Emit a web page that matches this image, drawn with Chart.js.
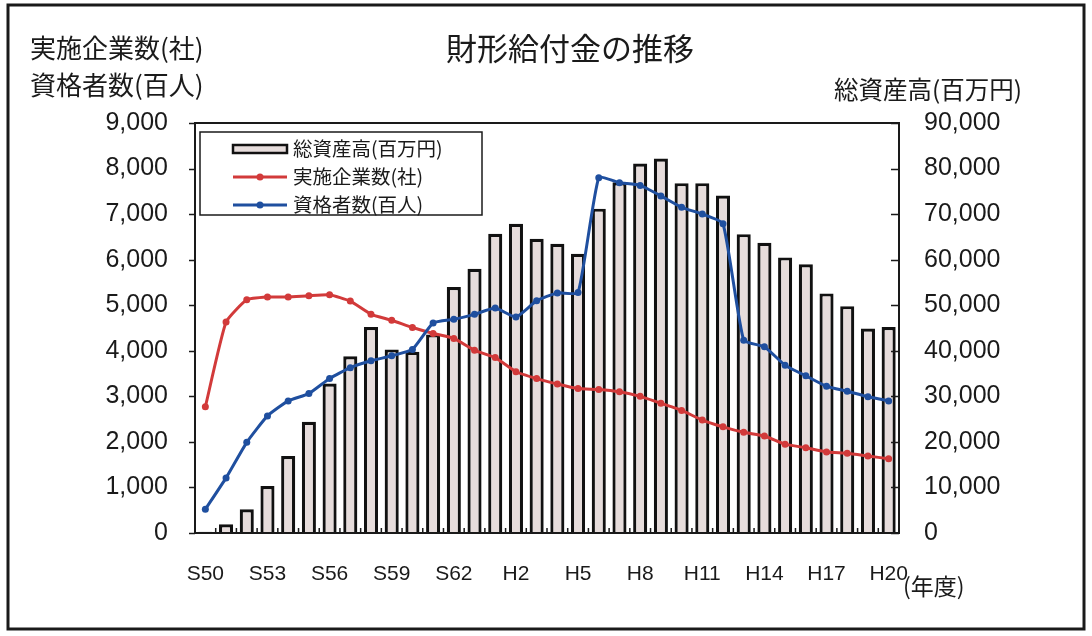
<!DOCTYPE html>
<html>
<head>
<meta charset="utf-8">
<script src="https://cdn.jsdelivr.net/npm/chart.js@4"></script>
<style>
html,body{margin:0;padding:0;background:#fff;}
#wrap{position:relative;width:1092px;height:636px;}
canvas{display:block;}
</style>
</head>
<body>
<div id="wrap"><canvas id="c" width="1092" height="636"></canvas></div>
<script>
const categories = ['S50','S51','S52','S53','S54','S55','S56','S57','S58','S59','S60','S61','S62','S63',
  'H1','H2','H3','H4','H5','H6','H7','H8','H9','H10','H11','H12','H13','H14','H15','H16','H17','H18','H19','H20'];
const totalAssets = [300,1900,5200,10300,16900,24400,32800,38800,45200,40300,39800,43600,54000,58000,65700,67900,64600,63500,61300,71200,77000,81100,82200,76800,76800,74100,65600,63700,60500,59000,52600,49800,44900,45200];
const companies = [2770,4630,5120,5180,5180,5210,5230,5090,4800,4670,4510,4380,4270,4010,3850,3540,3390,3270,3170,3150,3100,3000,2850,2690,2480,2330,2210,2130,1950,1870,1780,1750,1690,1630];
const qualified = [520,1210,1990,2570,2900,3060,3390,3630,3780,3890,4030,4610,4690,4800,4940,4740,5100,5270,5280,7800,7690,7630,7400,7150,7000,6790,4230,4090,3680,3450,3220,3110,2990,2900];
const leftTicks = [0,1000,2000,3000,4000,5000,6000,7000,8000,9000];
const rightTicks = [0,10000,20000,30000,40000,50000,60000,70000,80000,90000];
const labels = {
  title: '財形給付金の推移',
  left1: '実施企業数(社)',
  left2: '資格者数(百人)',
  right: '総資産高(百万円)',
  xunit: '(年度)',
  assets: '総資産高(百万円)',
  companies: '実施企業数(社)',
  qualified: '資格者数(百人)'
};

const RED = '#d23a3a', BLUE = '#1f4f9f', BARFILL = '#e6dcdb', BARLINE = '#111';
const CJK = '"Noto Sans CJK JP", "Noto Sans", sans-serif';
const NUM = '"Liberation Sans", Arial, sans-serif';

const decor = {
  id: 'decor',
  beforeDraw(chart) {
    const ctx = chart.ctx;
    ctx.save();
    ctx.fillStyle = '#fff';
    ctx.fillRect(0, 0, chart.width, chart.height);
    ctx.strokeStyle = '#1a1a1a';
    ctx.lineWidth = 3;
    ctx.strokeRect(8, 5, 1076, 624);
    ctx.restore();
  },
  afterDraw(chart) {
    const ctx = chart.ctx;
    const a = chart.chartArea;
    const y = chart.scales.y, y1 = chart.scales.y1;
    ctx.save();
    ctx.strokeStyle = '#1a1a1a';
    ctx.lineWidth = 2;
    ctx.strokeRect(a.left, a.top, a.right - a.left, a.bottom - a.top);
    ctx.lineWidth = 1.5;
    ctx.beginPath();
    leftTicks.forEach(v => { const py = Math.round(y.getPixelForValue(v)) + 0.5; ctx.moveTo(a.left - 6, py); ctx.lineTo(a.left, py); });
    rightTicks.forEach(v => { const py = Math.round(y1.getPixelForValue(v)) + 0.5; ctx.moveTo(a.right - 8, py); ctx.lineTo(a.right, py); });
    for (let i = 0; i <= categories.length; i++) {
      const px = a.left + (a.right - a.left) * i / categories.length;
      ctx.moveTo(px, a.bottom); ctx.lineTo(px, a.bottom - 5);
    }
    ctx.stroke();

    ctx.fillStyle = '#1a1a1a';
    ctx.textBaseline = 'middle';
    ctx.font = '31px ' + CJK;
    ctx.textAlign = 'center';
    ctx.fillText(labels.title, 570, 48);
    ctx.font = '26px ' + CJK;
    ctx.textAlign = 'left';
    ctx.fillText(labels.left1, 30, 48);
    ctx.fillText(labels.left2, 30, 85);
    ctx.font = '24.5px ' + CJK;
    ctx.fillText(labels.right, 834, 90);
    ctx.font = '23px ' + CJK;
    ctx.fillText(labels.xunit, 903, 586);

    const bx = 200, by = 132, bw = 282, bh = 83;
    ctx.fillStyle = '#fff';
    ctx.fillRect(bx, by, bw, bh);
    ctx.strokeStyle = '#1a1a1a';
    ctx.lineWidth = 1.5;
    ctx.strokeRect(bx, by, bw, bh);
    const rows = [149, 177, 205];
    ctx.fillStyle = BARFILL;
    ctx.fillRect(233, rows[0] - 4, 54, 8);
    ctx.strokeStyle = BARLINE;
    ctx.lineWidth = 2.5;
    ctx.strokeRect(233, rows[0] - 4, 54, 8);
    [[RED, rows[1]], [BLUE, rows[2]]].forEach(([col, ry]) => {
      ctx.strokeStyle = col;
      ctx.lineWidth = 3;
      ctx.beginPath(); ctx.moveTo(233, ry); ctx.lineTo(287, ry); ctx.stroke();
      ctx.fillStyle = col;
      ctx.beginPath(); ctx.arc(260, ry, 3.5, 0, Math.PI * 2); ctx.fill();
    });
    ctx.fillStyle = '#1a1a1a';
    ctx.font = '19.5px ' + CJK;
    ctx.textAlign = 'left';
    ctx.fillText(labels.assets, 293, rows[0]);
    ctx.fillText(labels.companies, 293, rows[1]);
    ctx.fillText(labels.qualified, 293, rows[2]);
    ctx.restore();
  }
};

new Chart(document.getElementById('c'), {
  type: 'bar',
  data: {
    labels: categories,
    datasets: [
      { type: 'line', label: labels.companies, data: companies, yAxisID: 'y', borderColor: RED, backgroundColor: RED,
        borderWidth: 3, pointRadius: 3.5, pointBorderWidth: 0, pointBackgroundColor: RED, tension: 0.15, order: 1 },
      { type: 'line', label: labels.qualified, data: qualified, yAxisID: 'y', borderColor: BLUE, backgroundColor: BLUE,
        borderWidth: 3, pointRadius: 3.5, pointBorderWidth: 0, pointBackgroundColor: BLUE, tension: 0.15, order: 0 },
      { type: 'bar', label: labels.assets, data: totalAssets, yAxisID: 'y1', backgroundColor: BARFILL, borderColor: BARLINE,
        borderWidth: 3.2, categoryPercentage: 1, barPercentage: 0.68, order: 5 }
    ]
  },
  options: {
    responsive: false,
    animation: false,
    devicePixelRatio: 1,
    layout: { padding: { top: 123, left: 0, right: 0, bottom: 0 } },
    plugins: { legend: { display: false }, tooltip: { enabled: false }, title: { display: false } },
    scales: {
      x: {
        grid: { display: false, drawTicks: false },
        border: { display: false },
        ticks: {
          autoSkip: false, maxRotation: 0, minRotation: 0, padding: 29,
          color: '#1a1a1a', font: { family: NUM, size: 21 },
          callback: function(v, i) { return i % 3 === 0 ? categories[i] : ''; }
        },
        afterFit(scale) { scale.height = 103; }
      },
      y: {
        position: 'left', min: 0, max: 9000,
        grid: { display: false, drawTicks: false },
        border: { display: false },
        ticks: { stepSize: 1000, padding: 27, color: '#1a1a1a', font: { family: NUM, size: 25 },
          callback: v => v.toLocaleString('en-US') },
        afterFit(scale) { scale.width = 195; }
      },
      y1: {
        position: 'right', min: 0, max: 90000,
        grid: { display: false, drawTicks: false },
        border: { display: false },
        ticks: { stepSize: 10000, padding: 25, color: '#1a1a1a', font: { family: NUM, size: 25 },
          callback: v => v.toLocaleString('en-US') },
        afterFit(scale) { scale.width = 193; }
      }
    }
  },
  plugins: [decor]
});
</script>
</body>
</html>
